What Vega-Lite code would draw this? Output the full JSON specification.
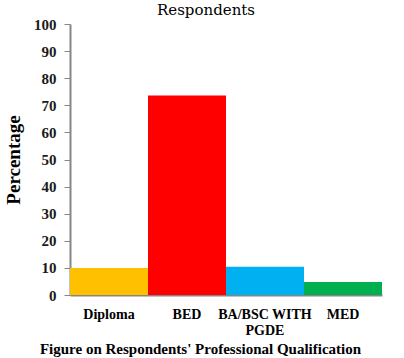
{
  "$schema": "https://vega.github.io/schema/vega-lite/v6.json",
  "width": 312,
  "height": 271,
  "autosize": {"type": "none"},
  "padding": {"left": 70, "top": 24, "right": 22, "bottom": 63},
  "background": "white",
  "config": {"view": {"stroke": null}},
  "title": {
    "text": "Respondents",
    "font": "DejaVu Serif",
    "fontSize": 15,
    "fontWeight": "normal",
    "color": "#000000",
    "baseline": "top",
    "offset": 0,
    "dy": 1,
    "anchor": "middle",
    "dx": -20
  },
  "data": {
    "values": [
      {"qualification": "Diploma", "percentage": 10.0},
      {"qualification": "BED", "percentage": 73.6},
      {"qualification": "BA/BSC WITH PGDE", "percentage": 10.4},
      {"qualification": "MED", "percentage": 4.8}
    ]
  },
  "mark": {"type": "bar"},
  "encoding": {
    "x": {
      "field": "qualification",
      "type": "nominal",
      "sort": null,
      "scale": {"paddingInner": 0, "paddingOuter": 0},
      "axis": {
        "title": "Figure on Respondents' Professional Qualification",
        "titleFont": "Liberation Serif",
        "titleFontSize": 15,
        "titleFontWeight": "bold",
        "titleColor": "#000000",
        "titleX": 130,
        "titleY": 46,
        "titleAlign": "center",
        "labelAngle": 0,
        "labelFont": "Liberation Serif",
        "labelFontSize": 14,
        "labelFontWeight": "bold",
        "labelColor": "#000000",
        "labelPadding": 12,
        "labelLineHeight": 16,
        "labelExpr": "datum.value == 'BA/BSC WITH PGDE' ? ['BA/BSC WITH', 'PGDE'] : datum.label",
        "ticks": false,
        "domainColor": "#868686",
        "domainWidth": 2
      }
    },
    "y": {
      "field": "percentage",
      "type": "quantitative",
      "scale": {"domain": [0, 100]},
      "axis": {
        "title": "Percentage",
        "titleFont": "Liberation Serif",
        "titleFontSize": 19,
        "titleFontWeight": "bold",
        "titleColor": "#000000",
        "titlePadding": 10,
        "values": [0, 10, 20, 30, 40, 50, 60, 70, 80, 90, 100],
        "grid": false,
        "labelFont": "Liberation Serif",
        "labelFontSize": 15,
        "labelFontWeight": "bold",
        "labelColor": "#1a1a1a",
        "labelPadding": 8,
        "tickColor": "#868686",
        "tickSize": 6,
        "domainColor": "#868686",
        "domainWidth": 2
      }
    },
    "color": {
      "field": "qualification",
      "type": "nominal",
      "sort": null,
      "scale": {
        "domain": ["Diploma", "BED", "BA/BSC WITH PGDE", "MED"],
        "range": ["#FFC000", "#FF0000", "#00B0F0", "#00B050"]
      },
      "legend": null
    }
  }
}
